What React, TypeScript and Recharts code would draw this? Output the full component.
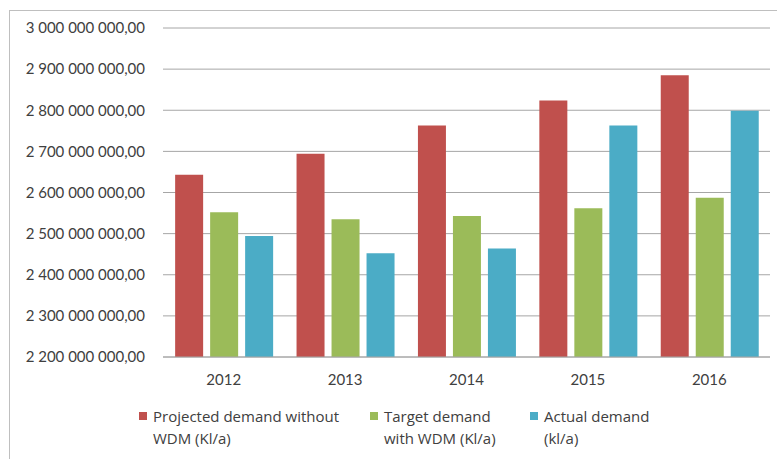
import React from "react"
import { BarChart, Bar, XAxis, YAxis, CartesianGrid, Legend } from "recharts"

const years = ["2012", "2013", "2014", "2015", "2016"]
const projected = [2643000000, 2694000000, 2763000000, 2824000000, 2885000000]
const target = [2552000000, 2535000000, 2543000000, 2562000000, 2587000000]
const actual = [2494000000, 2452000000, 2464000000, 2763000000, 2799000000]
const yTicks = [2200000000, 2300000000, 2400000000, 2500000000, 2600000000, 2700000000, 2800000000, 2900000000, 3000000000]

const seriesNames = ["Projected demand without\nWDM (Kl/a)", "Target demand\nwith WDM (Kl/a)", "Actual demand\n(kl/a)"]
const seriesColors = ["#C0504D", "#9BBB59", "#4BACC6"]

const data = years.map((year, i) => ({
  year,
  projected: projected[i],
  target: target[i],
  actual: actual[i],
}))

const font = "Lato, 'Open Sans', sans-serif"
const legendFont = "'Open Sans', Lato, sans-serif"
const textColor = "#404040"

function formatValue(v: number) {
  const s = Math.round(v).toString().replace(/\B(?=(\d{3})+(?!\d))/g, " ")
  return s + ",00"
}

// legend item positions
const legendLeft = [139, 370, 530]

function ChartLegend() {
  return (
    <div style={{ position: "relative", width: 777, height: 50, fontFamily: legendFont, fontSize: 15, color: textColor }}>
      {seriesNames.map((name, i) => (
        <div key={name} style={{ position: "absolute", left: legendLeft[i], top: 0, display: "flex", alignItems: "flex-start" }}>
          <div style={{ width: 8, height: 8, background: seriesColors[i], marginTop: 8, marginRight: 6 }} />
          <div style={{ whiteSpace: "pre-line", lineHeight: "22px", marginTop: 1 }}>{name}</div>
        </div>
      ))}
    </div>
  )
}

export default function App() {
  return (
    <div style={{ position: "absolute", left: 0, top: 0, width: 777, height: 459, background: "#fff" }}>
      <div
        style={{
          position: "absolute",
          left: 9,
          top: 10,
          right: 0,
          bottom: 0,
          borderLeft: "1px solid #BFBFBF",
          borderTop: "1px solid #BFBFBF",
        }}
      />
      <BarChart
        width={777}
        height={459}
        data={data}
        margin={{ top: 28, right: 7, bottom: 0, left: 0 }}
        barCategoryGap="10%"
        barGap={7}
      >
        <CartesianGrid vertical={false} stroke="#A6A6A6" />
        <XAxis
          dataKey="year"
          axisLine={{ stroke: "#A6A6A6" }}
          tickLine={false}
          tickSize={0}
          tickMargin={17}
          height={54}
          tick={{ fill: textColor, fontSize: 15, fontFamily: font }}
        />
        <YAxis
          domain={[2200000000, 3000000000]}
          ticks={yTicks}
          width={163}
          axisLine={false}
          tickLine={false}
          tickSize={0}
          tickMargin={18}
          tickFormatter={formatValue}
          tick={{ fill: textColor, fontSize: 15, fontFamily: font }}
        />
        <Legend
          verticalAlign="bottom"
          height={48}
          wrapperStyle={{ position: "absolute", left: 0, top: 404, width: 777 }}
          content={() => <ChartLegend />}
        />
        <Bar dataKey="projected" name={seriesNames[0]} fill={seriesColors[0]} isAnimationActive={false} />
        <Bar dataKey="target" name={seriesNames[1]} fill={seriesColors[1]} isAnimationActive={false} />
        <Bar dataKey="actual" name={seriesNames[2]} fill={seriesColors[2]} isAnimationActive={false} />
      </BarChart>
    </div>
  )
}
